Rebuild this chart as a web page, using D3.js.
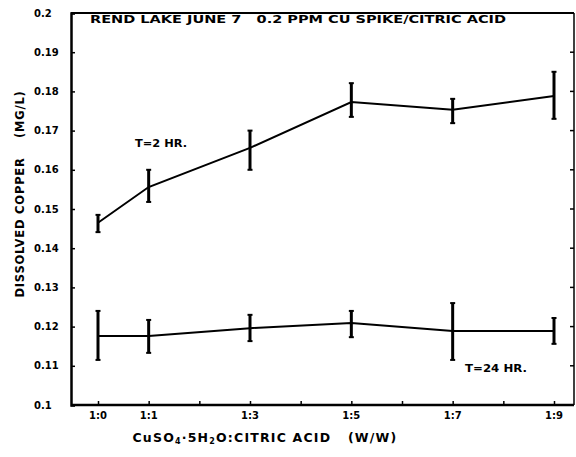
<!DOCTYPE html>
<html lang="en">
<head>
<meta charset="UTF-8">
<title>Rend Lake dissolved copper</title>
<script src="https://d3js.org/d3.v7.min.js"></script>
<style>
    body { margin: 0; background: #fff; }
    text { font-family: "DejaVu Sans", sans-serif; font-weight: bold; fill: #000; }
    .axis path, .axis line { stroke: #000; }
</style>
</head>
<body>
<script>
    // ratio position (1:x) for each sample
    const ratios = [0, 1, 3, 5, 7, 9];
    const xTickValues = [0, 1, 3, 5, 7, 9];
    const xTickLabels = ["1:0", "1:1", "1:3", "1:5", "1:7", "1:9"];

    // T=2 HR
    const mean2 = [0.1465, 0.1556, 0.1656, 0.1773, 0.1753, 0.1788];
    const low2  = [0.1441, 0.1518, 0.1600, 0.1735, 0.1719, 0.1730];
    const high2 = [0.1485, 0.1600, 0.1700, 0.1821, 0.1781, 0.1850];

    // T=24 HR
    const mean24 = [0.1176, 0.1176, 0.1196, 0.1209, 0.1189, 0.1189];
    const low24  = [0.1115, 0.1133, 0.1163, 0.1173, 0.1115, 0.1156];
    const high24 = [0.1240, 0.1217, 0.1230, 0.1240, 0.1260, 0.1222];

    const yTicks = [0.1, 0.11, 0.12, 0.13, 0.14, 0.15, 0.16, 0.17, 0.18, 0.19, 0.2];

    const width = 576, height = 457;
    const plotLeft = 71, plotRight = 574, plotTop = 13, plotBottom = 405;

    const svg = d3.select("body").append("svg")
        .attr("width", width)
        .attr("height", height);

    const x = d3.scaleLinear().domain([0, 9]).range([98, 554]);
    const y = d3.scaleLinear().domain([0.1, 0.2]).range([plotBottom, plotTop]);

    // frame: top and right lines
    svg.append("line").attr("x1", plotLeft).attr("x2", plotRight).attr("y1", plotTop).attr("y2", plotTop)
        .attr("stroke", "#000").attr("stroke-width", 2);
    svg.append("line").attr("x1", plotRight).attr("x2", plotRight).attr("y1", plotTop).attr("y2", plotBottom)
        .attr("stroke", "#000").attr("stroke-width", 1.5);

    // right side ticks
    svg.append("g").selectAll("line")
        .data(yTicks.slice(1, -1))
        .join("line")
        .attr("x1", plotRight - 4).attr("x2", plotRight)
        .attr("y1", d => y(d)).attr("y2", d => y(d))
        .attr("stroke", "#000").attr("stroke-width", 1.5);

    // left axis
    const yAxis = svg.append("g").attr("class", "axis")
        .attr("transform", `translate(${plotLeft},0)`)
        .call(d3.axisRight(y).tickValues(yTicks).tickSize(4).tickFormat(""));
    yAxis.select(".domain").attr("stroke-width", 2.5);
    yAxis.selectAll(".tick line").attr("stroke-width", 1.5);

    svg.append("g").selectAll("text")
        .data(yTicks)
        .join("text")
        .attr("x", 34)
        .attr("y", d => y(d))
        .attr("dy", "0.35em")
        .attr("font-size", 10)
        .text(d => d === 0.2 ? "0.2" : d === 0.1 ? "0.1" : d.toFixed(2));

    // bottom axis
    const xAxis = svg.append("g").attr("class", "axis")
        .attr("transform", `translate(0,${plotBottom})`)
        .call(d3.axisTop(x).tickValues(d3.range(0, 10)).tickSize(4).tickFormat(""));
    xAxis.select(".domain").attr("d", `M${plotLeft},0H${plotRight}`).attr("stroke-width", 2.5);
    xAxis.selectAll(".tick line").attr("stroke-width", 1.5);

    svg.append("g").selectAll("text")
        .data(xTickValues)
        .join("text")
        .attr("x", d => x(d))
        .attr("y", plotBottom + 14)
        .attr("text-anchor", "middle")
        .attr("font-size", 10)
        .text((d, i) => xTickLabels[i]);

    // series lines
    const line = d3.line().x(d => x(d[0])).y(d => y(d[1]));
    const series = [
        { mean: mean2, low: low2, high: high2 },
        { mean: mean24, low: low24, high: high24 }
    ];

    series.forEach(s => {
        svg.append("path")
            .datum(ratios.map((r, i) => [r, s.mean[i]]))
            .attr("fill", "none")
            .attr("stroke", "#000")
            .attr("stroke-width", 2)
            .attr("d", line);

        const eb = svg.append("g").selectAll("g")
            .data(ratios)
            .join("g");
        eb.append("line")
            .attr("x1", d => x(d)).attr("x2", d => x(d))
            .attr("y1", (d, i) => y(s.low[i])).attr("y2", (d, i) => y(s.high[i]))
            .attr("stroke", "#000").attr("stroke-width", 3);
        eb.append("line")
            .attr("x1", d => x(d) - 2.5).attr("x2", d => x(d) + 2.5)
            .attr("y1", (d, i) => y(s.low[i])).attr("y2", (d, i) => y(s.low[i]))
            .attr("stroke", "#000").attr("stroke-width", 2);
        eb.append("line")
            .attr("x1", d => x(d) - 2.5).attr("x2", d => x(d) + 2.5)
            .attr("y1", (d, i) => y(s.high[i])).attr("y2", (d, i) => y(s.high[i]))
            .attr("stroke", "#000").attr("stroke-width", 2);
    });

    // series labels
    svg.append("text").attr("x", 135).attr("y", 147).attr("font-size", 10)
        .attr("textLength", 52).attr("lengthAdjust", "spacingAndGlyphs").text("T=2 HR.");
    svg.append("text").attr("x", 465).attr("y", 372).attr("font-size", 10)
        .attr("textLength", 62).attr("lengthAdjust", "spacingAndGlyphs").text("T=24 HR.");

    // title
    svg.append("text")
        .attr("x", 90).attr("y", 23)
        .attr("font-size", 10.5)
        .attr("textLength", 416)
        .attr("lengthAdjust", "spacingAndGlyphs")
        .attr("xml:space", "preserve")
        .text("REND LAKE JUNE 7   0.2 PPM CU SPIKE/CITRIC ACID");

    // x axis title
    const xt = svg.append("text")
        .attr("x", 265).attr("y", 442)
        .attr("text-anchor", "middle")
        .attr("font-size", 12.5)
        .attr("letter-spacing", 1.2)
        .attr("xml:space", "preserve");
    xt.append("tspan").text("CuSO");
    xt.append("tspan").attr("font-size", 8).attr("dy", 2).text("4");
    xt.append("tspan").attr("dy", -2).text("·5H");
    xt.append("tspan").attr("font-size", 8).attr("dy", 2).text("2");
    xt.append("tspan").attr("dy", -2).text("O:CITRIC ACID   (W/W)");

    // y axis title
    svg.append("text")
        .attr("transform", "translate(24,194) rotate(-90)")
        .attr("text-anchor", "middle")
        .attr("font-size", 11.5)
        .attr("letter-spacing", 0.8)
        .attr("xml:space", "preserve")
        .text("DISSOLVED COPPER    (MG/L)");
</script>
</body>
</html>
